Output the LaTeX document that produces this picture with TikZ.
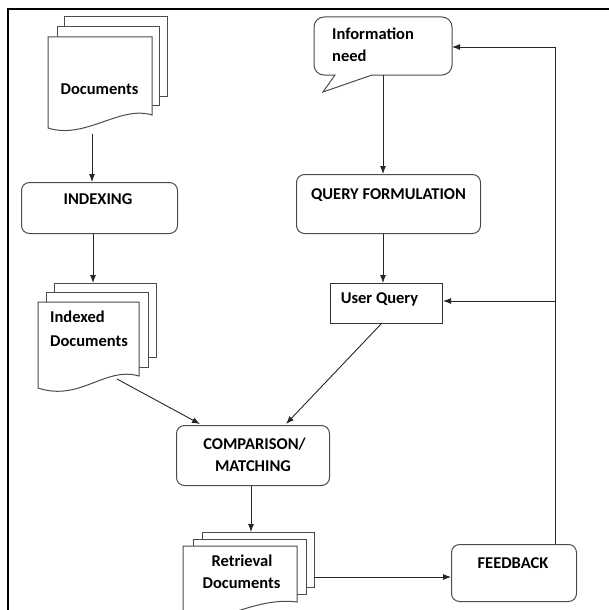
\documentclass[tikz,border=0pt]{standalone}
\usepackage{fontspec}
\setmainfont{Carlito}
\usetikzlibrary{arrows.meta}
\begin{document}
\begin{tikzpicture}[x=1pt,y=-1pt,
  shp/.style={draw=black!70, line width=1pt, fill=white},
  rbox/.style={shp, rounded corners=8pt, anchor=north west, inner sep=0pt},
  lbl/.style={font=\bfseries\fontsize{16.5}{20}\selectfont, text=black, inner sep=0pt},
  arr/.style={draw=black!85, line width=0.9pt, -{Latex[length=8pt,width=6pt]}},
  ln/.style={draw=black!85, line width=0.9pt}]
\useasboundingbox (0,0) rectangle (609,610);
\begin{scope}
\clip (0,0) rectangle (609,610);
% frame
\draw[line width=1.3pt] (8,612) -- (8,9) -- (612,9);

% Documents
\draw[shp] (64,17) rectangle (167,96);
\draw[shp] (57,27) rectangle (159,105);
\draw[shp] (48,37) -- (152,37) -- (152,115) .. controls (120,105) and (85,140) .. (48,128) -- cycle;
\node[lbl, anchor=base] (docs) at (99.5,94) {Documents};
\coordinate (docsb) at (92,134);

% INDEXING
\node[rbox, minimum width=156pt, minimum height=51pt] (idx) at (21,182) {};
\node[lbl, anchor=base] (idxt) at (98,204) {INDEXING};

% Indexed Documents
\draw[shp] (54,283) rectangle (156,357);
\draw[shp] (46,292) rectangle (148,367);
\draw[shp] (38,302) -- (139,302) -- (139,376) .. controls (105,366) and (80,402) .. (38,388) -- cycle;
\node[lbl, anchor=base west] (idoc1) at (50,322) {Indexed};
\node[lbl, anchor=base west] (idoc2) at (50,346) {Documents};
\coordinate (idoct) at (93,283);
\coordinate (idocb) at (117,379);

% Information need callout
\draw[shp] (335,75) [rounded corners=10pt] -- (314,75) -- (314,17) -- (452,17) -- (452,75) [sharp corners] -- (372,75) -- (323,92) -- cycle;
\node[lbl, anchor=base west] (info1) at (332,40) {Information};
\node[lbl, anchor=base west] (info2) at (332,62) {need};
\coordinate (infob) at (383,75);
\coordinate (infor) at (452,47);

% QUERY FORMULATION
\node[rbox, minimum width=184pt, minimum height=59pt] (qf) at (296,174) {};
\node[lbl, anchor=base] (qft) at (388.5,199) {QUERY FORMULATION};

% User Query
\node[draw=black!80, line width=1pt, fill=white, anchor=north west, minimum width=112pt, minimum height=40pt, inner sep=0pt] (uq) at (330,283) {};
\node[lbl, anchor=base] (uqt) at (379.5,303) {User Query};

% COMPARISON / MATCHING
\node[rbox, minimum width=153pt, minimum height=60pt] (cmp) at (176,425) {};
\node[lbl, anchor=base] (cmp1) at (254.5,449) {COMPARISON/};
\node[lbl, anchor=base] (cmp2) at (253,471) {MATCHING};

% Retrieval Documents
\draw[shp] (202,532) rectangle (314,587);
\draw[shp] (193,539) rectangle (306,594);
\draw[shp] (183,630) -- (183,546) -- (297,546) -- (297,602) .. controls (265,598) and (240,612) .. (200,622) -- cycle;
\node[lbl, anchor=base] (ret1) at (242,566) {Retrieval};
\node[lbl, anchor=base] (ret2) at (241.5,588) {Documents};
\coordinate (rett) at (251,532);
\coordinate (retr) at (314,577);

% FEEDBACK
\node[rbox, minimum width=125pt, minimum height=57pt] (fb) at (451,544) {};
\node[lbl, anchor=base] (fbt) at (513,568) {FEEDBACK};
\coordinate (fbtop) at (555,544);
\coordinate (turn) at (555,47);
\coordinate (branch) at (555,301);

% connectors
\draw[arr] (docsb) -- (docsb |- idx.north);
\draw[arr] (idx.south -| idoct) -- (idoct);
\draw[arr] (idocb) -- (200,424);
\draw[arr] (infob) -- (infob |- qf.north);
\draw[arr] (qf.south -| infob) -- (infob |- uq.north);
\draw[arr] (382,323) -- (286,424);
\draw[arr] (cmp.south -| rett) -- (rett);
\draw[arr] (retr) -- (retr -| fb.west);
\draw[ln] (fbtop) -- (turn);
\draw[arr] (turn) -- (infor);
\draw[arr] (branch) -- (branch -| uq.east);
\end{scope}
\end{tikzpicture}
\end{document}
